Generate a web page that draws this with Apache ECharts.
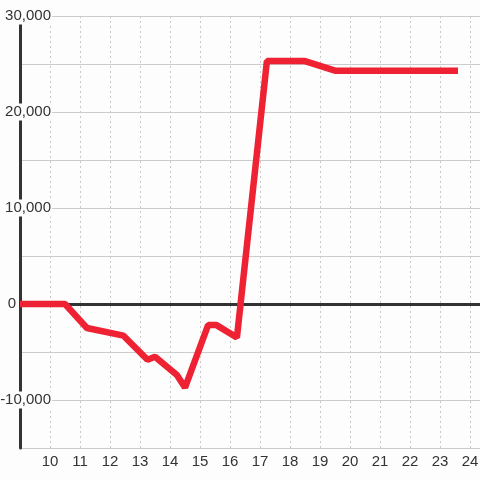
<!DOCTYPE html>
<html>
<head>
<meta charset="utf-8">
<script src="https://cdn.jsdelivr.net/npm/echarts@6/dist/echarts.min.js"></script>
<style>
  html, body { margin: 0; padding: 0; background: #fcfdfc; }
  #chart { width: 480px; height: 480px; }
</style>
</head>
<body>
<div id="chart"></div>
<script>
// series points (x, value)
var xs = [9, 10.5, 11.23, 12.45, 13.25, 13.5, 14.23, 14.5, 15.27, 15.55, 16.23, 17.23, 18.5, 19.5, 23.6];
var ys = [0, 0, -2500, -3300, -5800, -5500, -7400, -8700, -2200, -2200, -3500, 25300, 25300, 24300, 24300];

var bg = '#fcfdfc';
var chart = echarts.init(document.getElementById('chart'));

chart.setOption({
  backgroundColor: bg,
  animation: false,
  textStyle: { fontFamily: 'Liberation Sans' },
  grid: { left: 20, right: 0, top: 16, bottom: 32, outerBoundsMode: 'none', containLabel: false },
  xAxis: {
    type: 'value', min: 9, max: 24.333, interval: 1,
    axisLine: { show: false }, axisTick: { show: false },
    splitLine: { show: true, lineStyle: { color: '#c8c8c8', type: [2, 3], width: 1 } },
    axisLabel: {
      color: '#333', fontSize: 15, margin: 6,
      formatter: function (v) { return v === 9 ? '' : String(v); }
    }
  },
  yAxis: {
    type: 'value', min: -15000, max: 30000, interval: 5000,
    axisLine: { show: true, lineStyle: { color: '#333', width: 3 } },
    axisTick: { show: false },
    splitLine: { show: true, lineStyle: { color: '#cccccc', width: 1 } },
    axisLabel: {
      color: '#333', fontSize: 15, margin: -32, align: 'right',
      formatter: function (v) {
        if (v === 0) return '{z|0}';
        return v % 10000 === 0 ? '{a|' + v.toLocaleString('en-US') + '}' : '';
      },
      rich: {
        a: { fontSize: 15, color: '#333', backgroundColor: bg, padding: [1, 1, 1, 1] },
        z: { fontSize: 15, color: '#333', padding: [0, 36, 0, 0] }
      }
    }
  },
  series: [{
    type: 'line',
    data: xs.map(function (x, i) { return [x, ys[i]]; }),
    showSymbol: false,
    lineStyle: { color: '#ee2233', width: 6.5 },
    itemStyle: { color: '#ee2233' },
    markLine: {
      silent: true, symbol: 'none', z: 1,
      label: { show: false },
      lineStyle: { color: '#333', width: 3, type: 'solid' },
      data: [{ yAxis: 0 }]
    }
  }]
});
</script>
</body>
</html>
